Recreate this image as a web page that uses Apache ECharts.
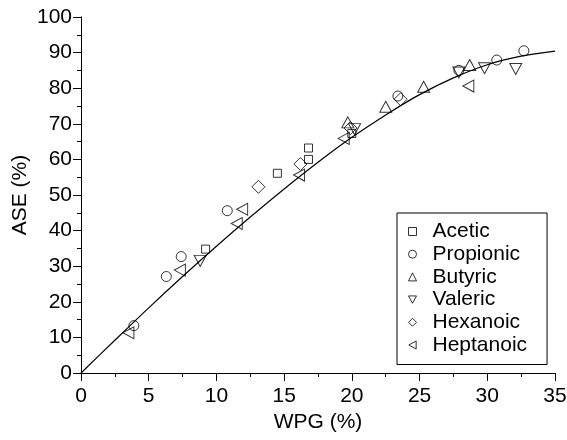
<!DOCTYPE html>
<html>
<head>
<meta charset="utf-8">
<script src="https://cdn.jsdelivr.net/npm/echarts@6/dist/echarts.min.js"></script>
<style>
html, body { margin: 0; padding: 0; background: #fff; }
#chart { width: 567px; height: 440px; }
</style>
</head>
<body>
<div id="chart"></div>
<script>
// 数据 (WPG %, ASE %)
const acetic = [[9.2, 34.8], [14.5, 56.1], [16.8, 60.0], [16.8, 63.2], [20.0, 67.3]];
const propionic = [[3.9, 13.3], [6.3, 27.1], [7.4, 32.7], [10.8, 45.6], [23.4, 77.8], [27.9, 85.0], [30.7, 87.9], [32.7, 90.5]];
const butyric = [[19.7, 70.4], [22.5, 74.8], [25.3, 80.4], [28.7, 86.5]];
const valeric = [[8.8, 31.5], [20.2, 68.5], [27.9, 84.4], [29.8, 85.6], [32.1, 85.4]];
const hexanoic = [[13.1, 52.3], [16.2, 58.7], [19.9, 68.8], [23.6, 76.9]];
const heptanoic = [[3.5, 11.3], [7.3, 28.9], [11.5, 42.0], [11.9, 46.0], [16.1, 55.6], [19.4, 65.9], [28.6, 80.6]];

// 拟合曲线
const curveX = [0, 2.5, 5, 7.5, 10, 12.5, 15, 17.5, 20, 22.5, 25, 27.5, 30, 32.5, 35];
const curveY = [0, 9.2, 18.3, 27.1, 35.6, 43.8, 51.7, 59.2, 66.2, 72.5, 78.2, 82.9, 86.6, 89.0, 90.4];

const names = ['Acetic', 'Propionic', 'Butyric', 'Valeric', 'Hexanoic', 'Heptanoic'];
const groups = [acetic, propionic, butyric, valeric, hexanoic, heptanoic];
const symbols = [
    'rect',
    'circle',
    'triangle',
    'path://M0,0 L12,0 L6,11 Z',
    'diamond',
    'path://M11,0 L11,12 L0,6 Z',
];
const sizes = [8, 10, [12, 11], [12, 11], 13, [11, 12]];

const font = 'Liberation Sans, Arial, sans-serif';

const series = groups.map((d, i) => ({
    name: names[i],
    type: 'scatter',
    data: d,
    symbol: symbols[i],
    symbolSize: sizes[i],
    itemStyle: {
        color: 'rgba(0,0,0,0)',
        borderColor: '#000',
        borderWidth: 1,
    },
    z: 3,
}));

series.push({
    type: 'line',
    data: curveX.map((x, i) => [x, curveY[i]]),
    smooth: 0.3,
    showSymbol: false,
    lineStyle: { color: '#000', width: 1.2 },
    z: 2,
});

const tickStyle = { lineStyle: { color: '#000', width: 1 } };

const myChart = echarts.init(document.getElementById('chart'), null, { renderer: 'canvas' });
myChart.setOption({
    animation: false,
    backgroundColor: '#fff',
    grid: { left: 81, right: 12, top: 17, bottom: 67, outerBoundsMode: 'none' },
    legend: {
        data: names,
        orient: 'vertical',
        left: 397,
        top: 213,
        padding: [8, 20, 9, 11],
        itemGap: 1.7,
        itemWidth: 8,
        itemHeight: 8,
        borderColor: '#000',
        borderWidth: 1,
        backgroundColor: '#fff',
        itemStyle: { borderWidth: 1, borderColor: '#000' },
        textStyle: {
            fontFamily: font,
            fontSize: 21,
            color: '#000',
            padding: [0, 0, 0, 11],
        },
    },
    xAxis: [
        {
            type: 'value',
            min: 0,
            max: 35,
            interval: 5,
            name: 'WPG (%)',
            nameLocation: 'middle',
            nameGap: 37,
            nameTextStyle: { fontFamily: font, fontSize: 21, color: '#000' },
            axisLine: { show: true, lineStyle: { color: '#000', width: 1 } },
            axisTick: { show: true, inside: false, length: 8, ...tickStyle },
            minorTick: { show: true, splitNumber: 2, length: 4, ...tickStyle },
            axisLabel: { fontFamily: font, fontSize: 21, color: '#000', margin: 13 },
            splitLine: { show: false },
        },
        {
            type: 'value',
            position: 'top',
            min: 0,
            max: 35,
            interval: 5,
            axisLine: { show: true, lineStyle: { color: '#000', width: 1 } },
            axisTick: { show: true, inside: true, length: 7, ...tickStyle },
            minorTick: { show: true, splitNumber: 2, length: 4, ...tickStyle },
            axisLabel: { show: false },
            splitLine: { show: false },
        },
    ],
    yAxis: [
        {
            type: 'value',
            min: 0,
            max: 100,
            interval: 10,
            name: 'ASE (%)',
            nameLocation: 'middle',
            nameGap: 50,
            nameMoveOverlap: false,
            nameTextStyle: { fontFamily: font, fontSize: 21, color: '#000' },
            axisLine: { show: true, lineStyle: { color: '#000', width: 1 } },
            axisTick: { show: true, inside: false, length: 8, ...tickStyle },
            minorTick: { show: true, splitNumber: 2, length: 4, ...tickStyle },
            axisLabel: { fontFamily: font, fontSize: 21, color: '#000', margin: 9 },
            splitLine: { show: false },
        },
        {
            type: 'value',
            position: 'right',
            min: 0,
            max: 100,
            interval: 10,
            axisLine: { show: true, lineStyle: { color: '#000', width: 1 } },
            axisTick: { show: true, inside: true, length: 7, ...tickStyle },
            minorTick: { show: true, splitNumber: 2, length: 3, ...tickStyle },
            axisLabel: { show: false },
            splitLine: { show: false },
        },
    ],
    series: series,
});
</script>
</body>
</html>
